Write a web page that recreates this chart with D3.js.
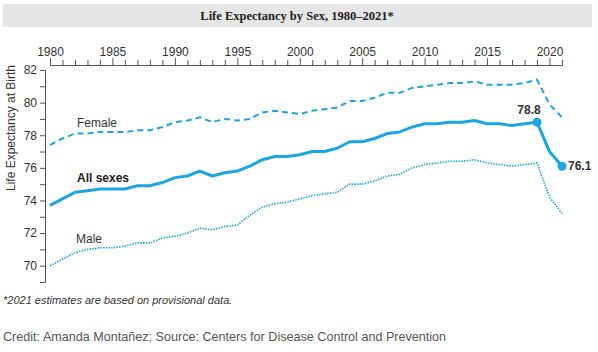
<!DOCTYPE html>
<html>
<head>
<meta charset="utf-8">
<script src="https://cdn.jsdelivr.net/npm/d3@7"></script>
<style>
  body { margin: 0; background: #fff; }
  svg { font-family: "Liberation Sans", Arial, sans-serif; }
</style>
</head>
<body>
<div id="chart"></div>
<script>
// years 1980-2021
const years = d3.range(1980, 2022);

// life expectancy at birth (CDC)
const allSexes = [73.7, 74.1, 74.5, 74.6, 74.7, 74.7, 74.7, 74.9, 74.9, 75.1,
  75.4, 75.5, 75.8, 75.5, 75.7, 75.8, 76.1, 76.5, 76.7, 76.7,
  76.8, 77.0, 77.0, 77.2, 77.6, 77.6, 77.8, 78.1, 78.2, 78.5,
  78.7, 78.7, 78.8, 78.8, 78.9, 78.7, 78.7, 78.6, 78.7, 78.8,
  77.0, 76.1];
const female = [77.4, 77.8, 78.1, 78.1, 78.2, 78.2, 78.2, 78.3, 78.3, 78.5,
  78.8, 78.9, 79.1, 78.8, 79.0, 78.9, 79.0, 79.4, 79.5, 79.4,
  79.3, 79.5, 79.6, 79.7, 80.1, 80.1, 80.3, 80.6, 80.6, 80.9,
  81.0, 81.1, 81.2, 81.2, 81.3, 81.1, 81.1, 81.1, 81.2, 81.4,
  79.9, 79.1];
const male = [70.0, 70.4, 70.8, 71.0, 71.1, 71.1, 71.2, 71.4, 71.4, 71.7,
  71.8, 72.0, 72.3, 72.2, 72.4, 72.5, 73.1, 73.6, 73.8, 73.9,
  74.1, 74.3, 74.4, 74.5, 75.0, 75.0, 75.2, 75.5, 75.6, 76.0,
  76.2, 76.3, 76.4, 76.4, 76.5, 76.3, 76.2, 76.1, 76.2, 76.3,
  74.2, 73.2];

const yTicks = d3.range(69, 83);
const highlightYears = [2019, 2021];

const width = 598, height = 352;
const blue = "#1aa6e0";

const svg = d3.select("#chart").append("svg")
  .attr("width", width)
  .attr("height", height);

// title banner
svg.append("rect")
  .attr("x", 3).attr("y", 4)
  .attr("width", 589).attr("height", 23)
  .attr("fill", "#e6e6e6");
svg.append("text")
  .attr("x", 297).attr("y", 20)
  .attr("text-anchor", "middle")
  .attr("font-family", "'Liberation Serif', 'DejaVu Serif', serif")
  .attr("font-weight", "bold")
  .attr("font-size", 12.5)
  .attr("fill", "#222")
  .text("Life Expectancy by Sex, 1980–2021*");

const x = d3.scaleLinear().domain([1980, 2021]).range([50, 562]);
const y = d3.scaleLinear().domain([69, 82]).range([282, 70]);

// x axis on top, minor ticks every year, labels every 5
const xAxis = d3.axisTop(x)
  .tickValues(years)
  .tickSizeOuter(0)
  .tickSize(5)
  .tickFormat(d => d % 5 === 0 ? d : "");
const gx = svg.append("g")
  .attr("transform", "translate(0,65)")
  .call(xAxis);
gx.selectAll(".tick line")
  .attr("y2", d => d % 5 === 0 ? -7 : -5);
gx.selectAll("text")
  .attr("font-size", 12)
  .attr("fill", "#333")
  .attr("dy", "-0.1em")
  .attr("font-family", "'Liberation Sans', Arial, sans-serif");
gx.selectAll("path, line").attr("stroke", "#555");

// y axis
const yAxis = d3.axisLeft(y)
  .tickValues(yTicks)
  .tickSizeOuter(0)
  .tickSize(5)
  .tickFormat(d => d % 2 === 0 ? d : "");
const gy = svg.append("g")
  .attr("transform", "translate(45,0)")
  .call(yAxis);
gy.selectAll("text")
  .attr("font-size", 12)
  .attr("fill", "#333")
  .attr("font-family", "'Liberation Sans', Arial, sans-serif");
gy.selectAll("path, line").attr("stroke", "#555");

svg.append("text")
  .attr("transform", "translate(15,128) rotate(-90)")
  .attr("text-anchor", "middle")
  .attr("font-size", 12)
  .attr("fill", "#333")
  .text("Life Expectancy at Birth");

const line = d3.line()
  .x((d, i) => x(years[i]))
  .y(d => y(d));

svg.append("path")
  .datum(female)
  .attr("d", line)
  .attr("fill", "none")
  .attr("stroke", blue)
  .attr("stroke-width", 2)
  .attr("stroke-dasharray", "6,4");

svg.append("path")
  .datum(male)
  .attr("d", line)
  .attr("fill", "none")
  .attr("stroke", blue)
  .attr("stroke-width", 1.6)
  .attr("stroke-dasharray", "1.5,1.2");

svg.append("path")
  .datum(allSexes)
  .attr("d", line)
  .attr("fill", "none")
  .attr("stroke", blue)
  .attr("stroke-width", 3)
  .attr("stroke-linejoin", "round");

// highlight dots and labels
highlightYears.forEach(yr => {
  const v = allSexes[years.indexOf(yr)];
  svg.append("circle")
    .attr("cx", x(yr)).attr("cy", y(v))
    .attr("r", 4.5)
    .attr("fill", blue);
  const isEnd = yr === 2021;
  svg.append("text")
    .attr("x", isEnd ? x(yr) + 6 : x(yr) - 8)
    .attr("y", isEnd ? y(v) + 4 : y(v) - 8)
    .attr("text-anchor", isEnd ? "start" : "middle")
    .attr("font-size", 12)
    .attr("font-weight", "bold")
    .attr("fill", "#333")
    .text(v.toFixed(1));
});

// series labels
svg.append("text").attr("x", 77).attr("y", 127)
  .attr("font-size", 12).attr("fill", "#333").text("Female");
svg.append("text").attr("x", 77).attr("y", 182)
  .attr("font-size", 12).attr("font-weight", "bold").attr("fill", "#222").text("All sexes");
svg.append("text").attr("x", 76).attr("y", 243)
  .attr("font-size", 12).attr("fill", "#333").text("Male");

// notes
svg.append("text").attr("x", 3).attr("y", 304)
  .attr("font-size", 11).attr("font-style", "italic").attr("fill", "#333")
  .text("*2021 estimates are based on provisional data.");
svg.append("text").attr("x", 3).attr("y", 341)
  .attr("font-size", 12.6).attr("fill", "#555")
  .text("Credit: Amanda Montañez; Source: Centers for Disease Control and Prevention");
</script>
</body>
</html>
